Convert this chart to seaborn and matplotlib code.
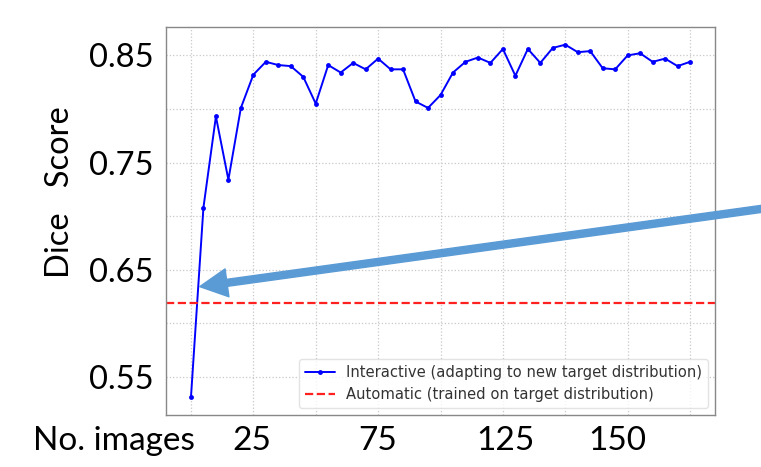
import numpy as np
import pandas as pd
import matplotlib
matplotlib.use("Agg")
import matplotlib.pyplot as plt
import seaborn as sns
from matplotlib.patches import FancyArrowPatch

# Veriler
n_images = list(range(0, 205, 5))
interactive_dice = [0.531, 0.708, 0.793, 0.734, 0.801, 0.832, 0.844, 0.841, 0.840, 0.830,
                    0.805, 0.841, 0.834, 0.843, 0.837, 0.847, 0.837, 0.837, 0.807, 0.801,
                    0.813, 0.834, 0.844, 0.848, 0.843, 0.856, 0.831, 0.856, 0.843, 0.857,
                    0.860, 0.853, 0.854, 0.838, 0.837, 0.850, 0.852, 0.844, 0.847, 0.840,
                    0.844]
automatic_dice = 0.619
y_ticks = [0.55, 0.60, 0.65, 0.70, 0.75, 0.80, 0.85]
y_tick_labels = ['0.55', '', '0.65', '', '0.75', '', '0.85']
x_ticks = [0, 25, 50, 75, 100, 125, 150, 175, 200]
slide_x_labels = ['25', '75', '125', '150']
slide_x_pos = [252, 378, 505, 617]

df = pd.DataFrame({'n': n_images, 'dice': interactive_dice})

sns.set_style('white')
plt.rcParams['font.family'] = ['Lato', 'DejaVu Sans']

fig = plt.figure(figsize=(7.61, 4.67), dpi=100)
ax = fig.add_axes([166 / 761, 1 - 415 / 467, (715 - 166) / 761, (415 - 27) / 467])

sns.lineplot(data=df, x='n', y='dice', ax=ax, color='#0000ff', marker='o',
             markersize=3.5, markeredgewidth=0, linewidth=1.4,
             label='Interactive (adapting to new target distribution)')
ax.axhline(automatic_dice, color='#ff2020', linestyle='--', linewidth=1.6,
           label='Automatic (trained on target distribution)')

ax.set_xlim(-10, 210)
ax.set_ylim(0.5145, 0.8765)
ax.set_xticks(x_ticks)
ax.set_xticklabels([''] * len(x_ticks))
ax.set_yticks(y_ticks)
ax.set_yticklabels(y_tick_labels, fontsize=23.5, color='black')
ax.tick_params(axis='both', length=3, width=0.8, color='#555555', pad=6)
ax.set_xlabel('')
ax.set_ylabel('')
ax.grid(True, linestyle=':', color='#c8c8c8', linewidth=0.9)
for s in ax.spines.values():
    s.set_color('#888888')
    s.set_linewidth(1.0)

leg = ax.legend(loc='lower right', prop={'family': 'DejaVu Sans', 'size': 10.6},
                frameon=True, borderaxespad=0.45)
leg.get_frame().set_edgecolor('#dddddd')
for t in leg.get_texts():
    t.set_color('#333333')

# Slayt üzerindeki yazılar
fig.text(60 / 761, 1 - 192 / 467, 'Dice   Score', rotation=90, fontsize=23.5,
         ha='center', va='center', color='black')
fig.text(33 / 761, 1 - 450 / 467, 'No. images', fontsize=24, ha='left',
         va='baseline', color='black')
for lab, px in zip(slide_x_labels, slide_x_pos):
    fig.text(px / 761, 1 - 450 / 467, lab, fontsize=24, ha='center',
             va='baseline', color='black')

# Mavi ok
arrow = FancyArrowPatch((775 / 761, 1 - 207 / 467), (197 / 761, 1 - 287 / 467),
                        transform=fig.transFigure,
                        arrowstyle='simple,head_length=0.9,head_width=0.92,tail_width=0.23',
                        mutation_scale=22, color='#5b9bd5', clip_on=False)
fig.patches.append(arrow)

fig.savefig('out.png', dpi=100)
